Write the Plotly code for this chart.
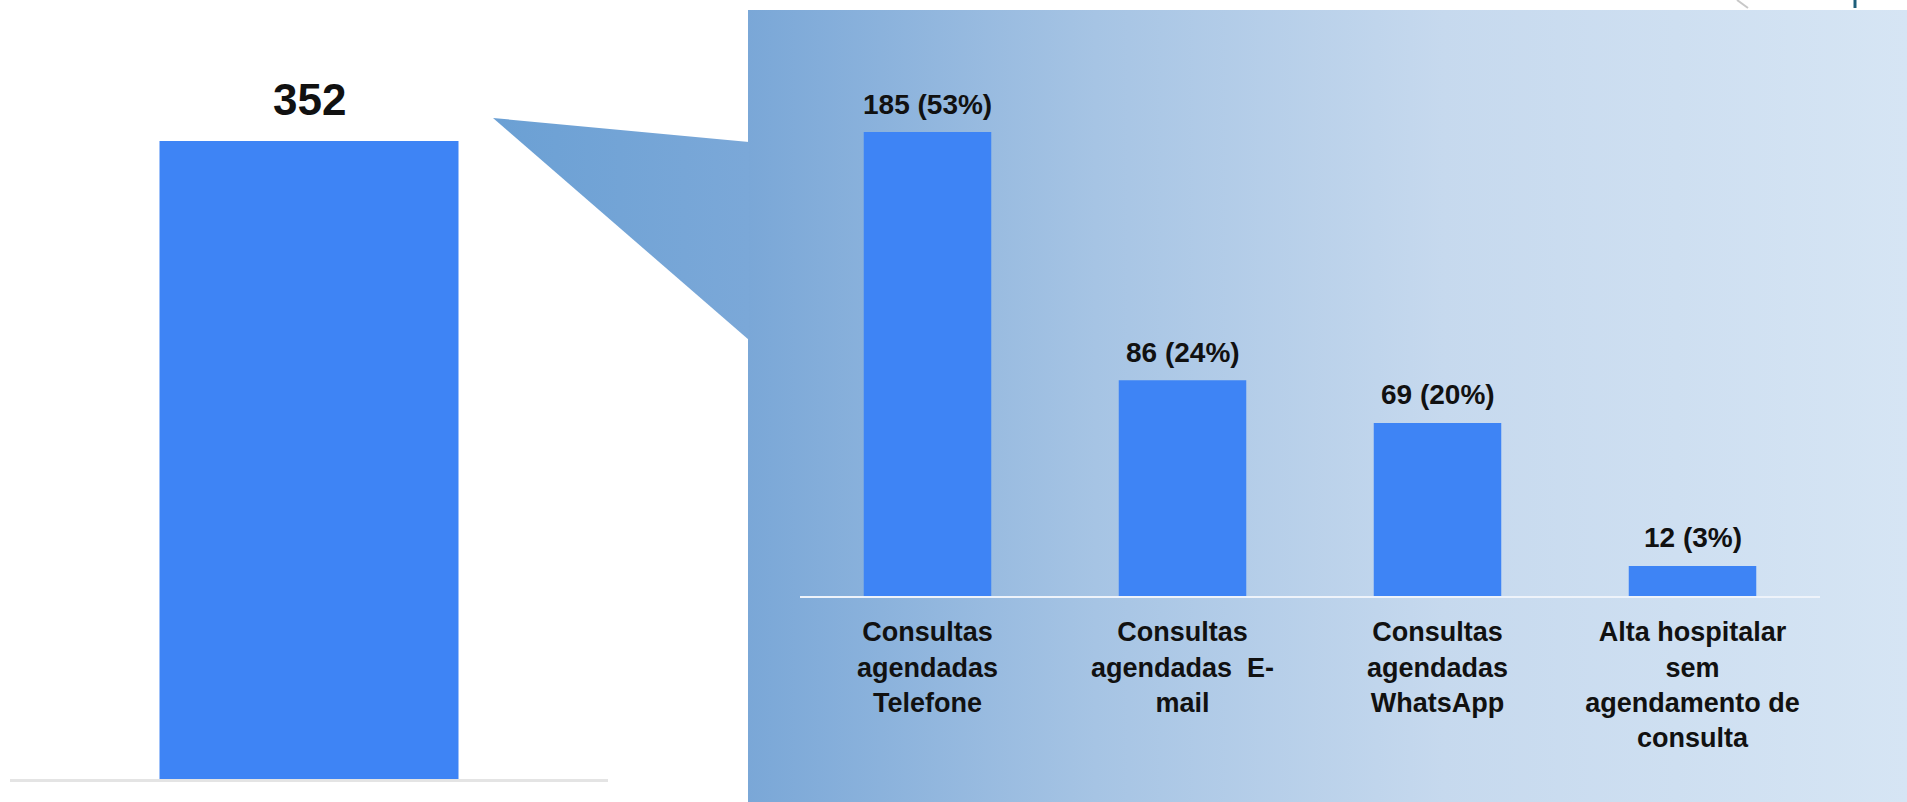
import plotly.graph_objects as go

W, H = 1907, 802

# ---------------- data ----------------
total_categories = ["Total"]
total_values = [352]

categories = [
    "Consultas<br>agendadas<br>Telefone",
    "Consultas<br>agendadas  E-<br>mail",
    "Consultas<br>agendadas<br>WhatsApp",
    "Alta hospitalar<br>sem<br>agendamento de<br>consulta",
]
values = [185, 86, 69, 12]
percents = [53, 24, 20, 3]

# ---------------- styles ----------------
FONT = "Liberation Sans, Arial, Helvetica, sans-serif"
BAR_COLOR = "#3E84F5"

fig = go.Figure()

# background panel (decoration, on a full-page canvas axis)
fig.add_trace(go.Scatter(
    x=[748, W, W, 748, 748], y=[10, 10, H, H, 10],
    fill="toself", mode="none", hoverinfo="skip", showlegend=False,
    fillgradient=dict(type="horizontal", colorscale=[
        [0.0, "#7AA7D7"], [0.3, "#A6C4E4"], [0.6, "#C6D9EE"], [1.0, "#D6E5F4"]]),
    xaxis="x", yaxis="y",
))
# callout wedge
fig.add_trace(go.Scatter(
    x=[493, 749, 749, 493], y=[118, 142, 340, 118],
    fill="toself", mode="none", hoverinfo="skip", showlegend=False,
    fillgradient=dict(type="horizontal", colorscale=[[0.0, "#6BA0D4"], [1.0, "#7BA8D8"]]),
    xaxis="x", yaxis="y",
))

# left chart: total
fig.add_trace(go.Bar(
    x=total_categories, y=total_values, marker_color=BAR_COLOR,
    marker_line_width=0, xaxis="x2", yaxis="y2", showlegend=False,
    hoverinfo="skip",
))
# right chart: breakdown
fig.add_trace(go.Bar(
    x=categories, y=values, marker_color=BAR_COLOR,
    marker_line_width=0, xaxis="x3", yaxis="y3", showlegend=False,
    hoverinfo="skip",
))

annotations = []
for i, v in enumerate(total_values):
    annotations.append(dict(
        x=i, y=v, xref="x2", yref="y2", text=f"{v}", showarrow=False,
        yanchor="middle", yshift=41,
        font=dict(family=FONT, size=44, color="#111111", weight="bold"),
    ))
for i, (v, p) in enumerate(zip(values, percents)):
    annotations.append(dict(
        x=i, y=v, xref="x3", yref="y3", text=f"{v} ({p}%)", showarrow=False,
        yanchor="middle", yshift=28,
        font=dict(family=FONT, size=28, color="#111111", weight="bold"),
    ))

shapes = [
    dict(type="line", xref="x", yref="y", x0=1737, y0=0, x1=1748, y1=8,
         line=dict(color="#C8C8C8", width=2)),
    dict(type="line", xref="x", yref="y", x0=1855, y0=0, x1=1855, y1=8,
         line=dict(color="#1F5F7A", width=3)),
]

fig.update_layout(
    width=W, height=H,
    margin=dict(l=0, r=0, t=0, b=0),
    paper_bgcolor="white",
    plot_bgcolor="rgba(0,0,0,0)",
    bargap=0.5,
    showlegend=False,
    annotations=annotations,
    shapes=shapes,
    xaxis=dict(domain=[0, 1], range=[0, W], visible=False, fixedrange=True),
    yaxis=dict(domain=[0, 1], range=[H, 0], visible=False, fixedrange=True),
    xaxis2=dict(domain=[10 / W, 608 / W], anchor="y2", showline=True,
                linecolor="#E4E4E4", linewidth=3, showticklabels=False,
                showgrid=False, zeroline=False, ticks=""),
    yaxis2=dict(domain=[(H - 779) / H, (H - 40) / H], anchor="x2",
                range=[0, 407.7], visible=False),
    xaxis3=dict(domain=[800 / W, 1820 / W], anchor="y3", showline=True,
                linecolor="#EEF3FA", linewidth=2, showgrid=False,
                zeroline=False, ticks="", ticklabelstandoff=11,
                tickfont=dict(family=FONT, size=27, color="#111111", weight="bold")),
    yaxis3=dict(domain=[(H - 596) / H, (H - 40) / H], anchor="x3",
                range=[0, 221.7], visible=False),
)

fig.write_html(
    "out.html",
    config={"displayModeBar": False},
    post_script="document.body.style.margin='0px';document.body.style.overflow='hidden';",
)
